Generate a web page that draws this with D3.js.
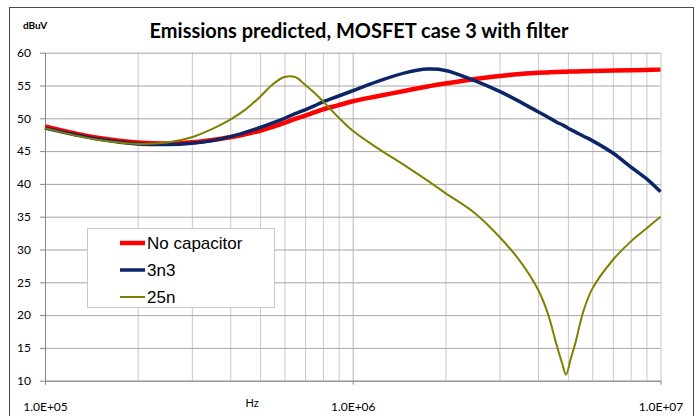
<!DOCTYPE html>
<html>
<head>
  <title>Emissions predicted, MOSFET case 3 with filter</title>
  <script src="https://d3js.org/d3.v7.min.js"></script>
  <style>
    body { margin: 0; background: #fff; }
    .grid-h line { stroke: #a6a6a6; stroke-width: 1; }
    .grid-v line { stroke: #c8c8c8; stroke-width: 1; }
    .grid-h path, .grid-v path { display: none; }
    .axis path, .axis line { stroke: #868686; }
    .axis text { font-family: Lato, "Liberation Sans", sans-serif; font-size: 12px; fill: #000; }
    .line { fill: none; }
    .legend text { font-family: "Liberation Sans", Arial, sans-serif; font-size: 17px; fill: #000; }
  </style>
</head>
<body>
  <div class="chart"></div>
  <script>
    // values (Hz, dBuV)
    const freqHz = [1e5, 1.25e5, 1.5e5, 2e5, 2.5e5, 3e5, 3.5e5, 4e5, 4.5e5, 5e5, 5.5e5, 6e5, 6.5e5, 7e5, 7.5e5, 8e5, 9e5,
      1e6, 1.2e6, 1.5e6, 1.75e6, 2e6, 2.5e6, 3e6, 3.5e6, 4e6, 4.3e6, 4.6e6, 4.8e6, 4.93e6, 5.1e6, 5.3e6, 5.6e6,
      6e6, 7e6, 8e6, 9e6, 1e7];
    const noCapacitor = [48.75, 47.7, 47.0, 46.3, 46.15, 46.35, 46.7, 47.1, 47.6, 48.1, 48.7, 49.3, 49.9, 50.4, 50.9, 51.35, 52.0,
      52.6, 53.35, 54.25, 54.85, 55.3, 56.0, 56.45, 56.75, 56.95, 57.0, 57.05, 57.08, 57.1, 57.12, 57.14, 57.17,
      57.2, 57.27, 57.33, 57.38, 57.42];
    const cap3n3 = [48.5, 47.5, 46.8, 46.1, 46.0, 46.2, 46.6, 47.2, 47.9, 48.6, 49.3, 50.0, 50.7, 51.3, 51.9, 52.5, 53.4,
      54.2, 55.6, 57.0, 57.5, 57.3, 55.7, 54.1, 52.5, 51.0, 50.2, 49.4, 49.0, 48.7, 48.3, 47.9, 47.3,
      46.6, 44.7, 42.6, 40.8, 38.8];
    const cap25n = [48.5, 47.4, 46.7, 46.1, 46.3, 47.1, 48.4, 49.8, 51.4, 53.3, 55.2, 56.3, 56.3, 55.1, 53.9, 52.6, 50.1,
      48.1, 45.5, 42.6, 40.5, 38.6, 35.5, 31.9, 28.2, 23.9, 20.3, 15.4, 12.5, 10.9, 13.2, 15.9, 20.4,
      24.0, 28.4, 31.2, 33.2, 35.0];
    const seriesNames = ["No capacitor", "3n3", "25n"];
    const yTickValues = [10, 15, 20, 25, 30, 35, 40, 45, 50, 55, 60];
    const xTickValues = [1e5, 1e6, 1e7];
    const xTickLabels = ["1.0E+05", "1.0E+06", "1.0E+07"];

    const svg = d3.select(".chart")
      .append("svg")
      .attr("width", 700)
      .attr("height", 416);

    // chart area border
    svg.append("rect")
      .attr("x", 9.5).attr("y", 7.5)
      .attr("width", 684).attr("height", 420)
      .attr("fill", "#fff")
      .attr("stroke", "#4a4a4a");

    const x = d3.scaleLog().domain([1e5, 1e7]).range([45, 660.5]);
    const y = d3.scaleLinear().domain([10, 60]).range([380.7, 52.7]);

    // minor log gridlines
    const minorTicks = [];
    [1e5, 1e6].forEach(d => { for (let k = 1; k <= 10; k++) minorTicks.push(d * k); });

    svg.append("g")
      .attr("class", "grid-v")
      .attr("transform", "translate(0,380.7)")
      .call(d3.axisBottom(x).tickValues(minorTicks.filter(d => d > 1e5)).tickSize(-328).tickFormat(""));

    svg.append("g")
      .attr("class", "grid-h")
      .attr("transform", "translate(45,0)")
      .call(d3.axisLeft(y).tickValues(yTickValues).tickSize(-615.5).tickFormat(""));

    // axes
    svg.append("g")
      .attr("class", "axis")
      .attr("transform", "translate(45,0)")
      .call(d3.axisLeft(y).tickValues(yTickValues).tickSize(5).tickPadding(9).tickSizeOuter(0));

    svg.append("g")
      .attr("class", "axis")
      .attr("transform", "translate(0,380.7)")
      .call(d3.axisBottom(x).tickValues(xTickValues).tickSize(4).tickPadding(18)
        .tickFormat((d, i) => xTickLabels[i]).tickSizeOuter(0));

    svg.append("text")
      .attr("x", 252).attr("y", 407)
      .attr("text-anchor", "middle")
      .attr("font-family", "Lato, sans-serif")
      .attr("font-size", 11)
      .text("Hz");

    svg.append("text")
      .attr("x", 23).attr("y", 29)
      .attr("font-family", "Lato, sans-serif")
      .attr("font-weight", "bold")
      .attr("font-size", 10)
      .text("dBuV");

    svg.append("text")
      .attr("x", 359).attr("y", 37.5)
      .attr("text-anchor", "middle")
      .attr("font-family", "Lato, sans-serif")
      .attr("font-weight", "bold")
      .attr("font-size", 20)
      .text("Emissions predicted, MOSFET case 3 with filter");

    // series, drawn red first so the thinner lines sit on top
    const series = [
      { name: seriesNames[0], values: noCapacitor, color: "#ff0000", width: 4.5 },
      { name: seriesNames[1], values: cap3n3, color: "#0b2566", width: 3.5 },
      { name: seriesNames[2], values: cap25n, color: "#808000", width: 2 }
    ];

    const line = d3.line()
      .x((d, i) => x(freqHz[i]))
      .y(d => y(d))
      .curve(d3.curveCatmullRom.alpha(0.5));

    series.forEach(s => {
      svg.append("path")
        .datum(s.values)
        .attr("class", "line")
        .attr("stroke", s.color)
        .attr("stroke-width", s.width)
        .attr("d", line);
    });

    // legend
    const legend = svg.append("g").attr("class", "legend");
    legend.append("rect")
      .attr("x", 87.5).attr("y", 228.5)
      .attr("width", 187).attr("height", 79)
      .attr("fill", "#fff")
      .attr("stroke", "#c8c8c8");

    series.forEach((s, i) => {
      const ly = 243 + i * 27;
      legend.append("line")
        .attr("x1", 120).attr("x2", 145)
        .attr("y1", ly).attr("y2", ly)
        .attr("stroke", s.color)
        .attr("stroke-width", s.width);
      legend.append("text")
        .attr("x", 147).attr("y", ly + 6)
        .text(s.name);
    });
  </script>
</body>
</html>
